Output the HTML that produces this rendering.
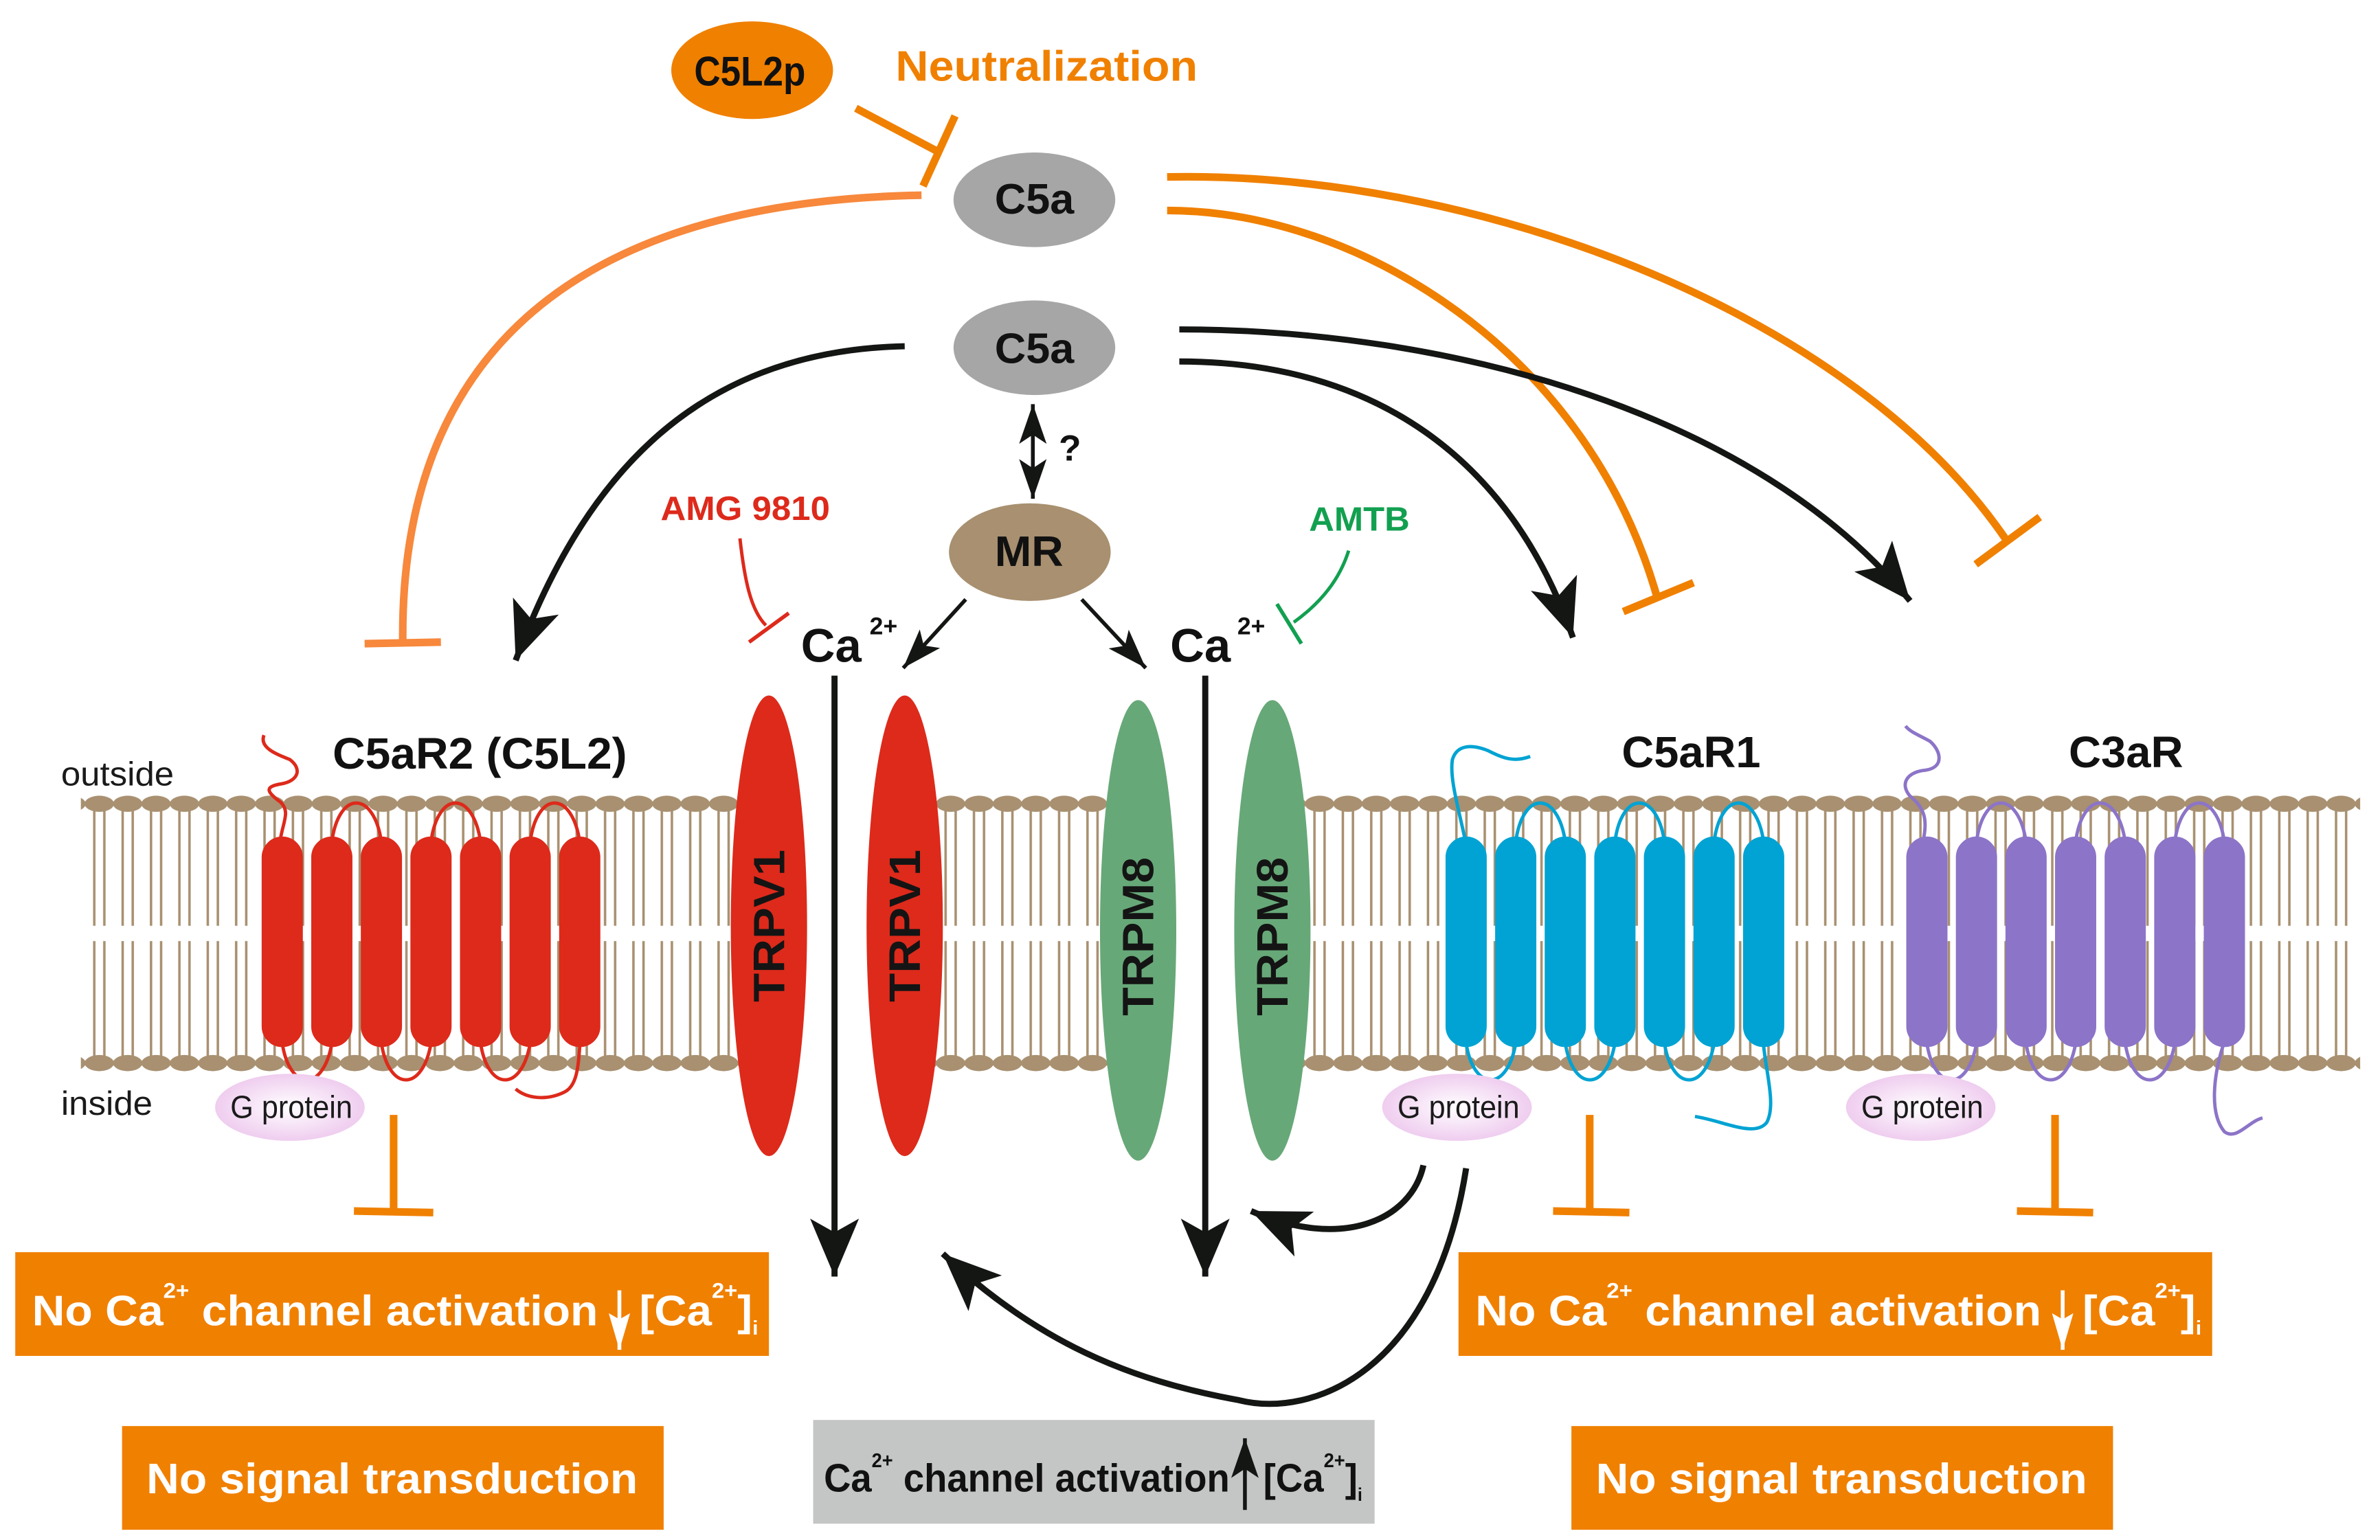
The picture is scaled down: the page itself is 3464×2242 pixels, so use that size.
<!DOCTYPE html>
<html><head><meta charset="utf-8"><style>
html,body{margin:0;padding:0;background:#fff;}
svg{display:block;}
text{font-family:"Liberation Sans",Arial,sans-serif;font-weight:bold;}
</style></head><body>
<svg xmlns="http://www.w3.org/2000/svg" width="3464" height="2242" viewBox="0 0 1560 1009.7" preserveAspectRatio="none">
<defs>
<pattern id="mem" patternUnits="userSpaceOnUse" x="0" y="521" width="18.6" height="182">
<g stroke="#a89070" stroke-width="1.6">
<line x1="6" y1="8" x2="6" y2="86"/><line x1="12.6" y1="8" x2="12.6" y2="86"/>
<line x1="6" y1="96" x2="6" y2="174"/><line x1="12.6" y1="96" x2="12.6" y2="174"/>
</g>
<g fill="#a89070">
<ellipse cx="9.3" cy="6" rx="9.6" ry="5.3"/>
<ellipse cx="9.3" cy="176" rx="9.6" ry="5.3"/>
</g>
</pattern>
<radialGradient id="gp" cx="0.5" cy="0.5" r="0.5">
<stop offset="0" stop-color="#ffffff"/><stop offset="1" stop-color="#efcdef"/>
</radialGradient>
<marker id="ah" markerUnits="userSpaceOnUse" viewBox="-2 -18 42 36" markerWidth="42" markerHeight="36" refX="38" refY="0" orient="auto">
<path d="M0,-16 L38,0 L0,16 L9,0 z" fill="#141614"/>
</marker>
<marker id="ahs" markerUnits="userSpaceOnUse" viewBox="-2 -11 30 22" markerWidth="30" markerHeight="22" refX="26" refY="0" orient="auto">
<path d="M0,-9 L26,0 L0,9 L6,0 z" fill="#141614"/>
</marker>
<marker id="ahw" markerUnits="userSpaceOnUse" viewBox="-2 -10 28 20" markerWidth="28" markerHeight="20" refX="24" refY="0" orient="auto">
<path d="M0,-7 L24,0 L0,7 L4,0 z" fill="#fff"/>
</marker>
<g id="rec">
<rect x="0" y="549" width="26" height="137" rx="13"/>
<rect x="32.5" y="549" width="26" height="137" rx="13"/>
<rect x="65" y="549" width="26" height="137" rx="13"/>
<rect x="97.5" y="549" width="26" height="137" rx="13"/>
<rect x="130" y="549" width="26" height="137" rx="13"/>
<rect x="162.5" y="549" width="26" height="137" rx="13"/>
<rect x="195" y="549" width="26" height="137" rx="13"/>
<g fill="none" stroke-width="2.2">
<path d="M45.5,552 C50,518 73,518 78,552"/>
<path d="M110.5,552 C115,518 138,518 143,552"/>
<path d="M175.5,552 C180,518 203,518 208,552"/>
<path d="M13,684 C18,716 40,716 45.5,684"/>
<path d="M78,684 C83,716 105,716 110.5,684"/>
<path d="M143,684 C148,716 170,716 175.5,684"/>
</g>
</g>
</defs>

<rect x="53" y="521" width="450" height="182" fill="url(#mem)"/>
<rect x="593" y="521" width="153" height="182" fill="url(#mem)"/>
<rect x="834" y="521" width="713" height="182" fill="url(#mem)"/>

<g fill="#dd2a1b" stroke="#dd2a1b"><use href="#rec" x="172"/></g>
<g fill="#00a3d3" stroke="#00a3d3"><use href="#rec" x="948"/></g>
<g fill="#8c74c8" stroke="#8c74c8"><use href="#rec" x="1250"/></g>
<g fill="none" stroke-width="2.2">
<path stroke="#dd2a1b" d="M184,549 C186,538 190,532 184,526 C176,520 172,516 184,514 C196,512 198,504 190,498 C180,494 170,490 173,482"/>
<path stroke="#dd2a1b" d="M380,686 C379,700 378,712 370,716 C358,722 345,720 338,714"/>
<path stroke="#00a3d3" d="M960,549 C956,530 950,510 952,498 C955,488 965,488 975,492 C985,497 992,500 1003,496"/>
<path stroke="#00a3d3" d="M1156,686 C1158,705 1164,725 1158,736 C1150,746 1130,735 1111,732"/>
<path stroke="#8c74c8" d="M1261,549 C1263,538 1262,530 1252,522 C1245,514 1250,506 1262,505 C1275,503 1272,492 1265,486 C1258,482 1252,480 1249,476"/>
<path stroke="#8c74c8" d="M1457,686 C1451,705 1448,730 1458,742 C1466,748 1474,735 1483,733"/>
</g>

<ellipse cx="190" cy="726" rx="49" ry="22" fill="url(#gp)"/>
<ellipse cx="955" cy="726" rx="49" ry="22" fill="url(#gp)"/>
<ellipse cx="1259" cy="726" rx="49" ry="22" fill="url(#gp)"/>
<g fill="#1a1a1a">
<text x="151" y="733" font-size="21" textLength="80" lengthAdjust="spacingAndGlyphs" style="font-weight:normal">G protein</text>
<text x="916" y="733" font-size="21" textLength="80" lengthAdjust="spacingAndGlyphs" style="font-weight:normal">G protein</text>
<text x="1220" y="733" font-size="21" textLength="80" lengthAdjust="spacingAndGlyphs" style="font-weight:normal">G protein</text>
<text x="40" y="515" font-size="22" textLength="74" lengthAdjust="spacingAndGlyphs" style="font-weight:normal">outside</text>
<text x="40" y="731" font-size="22" textLength="60" lengthAdjust="spacingAndGlyphs" style="font-weight:normal">inside</text>
</g>

<ellipse cx="504" cy="607" rx="25" ry="151" fill="#dd2a1b"/>
<ellipse cx="593" cy="607" rx="25" ry="151" fill="#dd2a1b"/>
<ellipse cx="746" cy="610" rx="25" ry="151" fill="#67a878"/>
<ellipse cx="834" cy="610" rx="25" ry="151" fill="#67a878"/>
<g font-size="29" fill="#141414">
<text transform="translate(514,607) rotate(-90)" text-anchor="middle" textLength="100" lengthAdjust="spacingAndGlyphs">TRPV1</text>
<text transform="translate(603,607) rotate(-90)" text-anchor="middle" textLength="100" lengthAdjust="spacingAndGlyphs">TRPV1</text>
<text transform="translate(756,614) rotate(-90)" text-anchor="middle" textLength="104" lengthAdjust="spacingAndGlyphs">TRPM8</text>
<text transform="translate(844,614) rotate(-90)" text-anchor="middle" textLength="104" lengthAdjust="spacingAndGlyphs">TRPM8</text>
</g>

<line x1="547" y1="443" x2="547" y2="837" stroke="#141614" stroke-width="4" marker-end="url(#ah)"/>
<line x1="790" y1="443" x2="790" y2="837" stroke="#141614" stroke-width="4" marker-end="url(#ah)"/>

<g font-size="29" fill="#111">
<text x="218" y="504" textLength="193" lengthAdjust="spacingAndGlyphs">C5aR2 (C5L2)</text>
<text x="1063" y="503" textLength="91" lengthAdjust="spacingAndGlyphs">C5aR1</text>
<text x="1356" y="503" textLength="75" lengthAdjust="spacingAndGlyphs">C3aR</text>
</g>

<ellipse cx="493" cy="46" rx="53" ry="32" fill="#f08000"/>
<text x="455" y="56" font-size="27" fill="#111" textLength="73" lengthAdjust="spacingAndGlyphs">C5L2p</text>
<text x="587" y="53" font-size="28" fill="#f08000" textLength="198" lengthAdjust="spacingAndGlyphs">Neutralization</text>
<ellipse cx="678" cy="131" rx="53" ry="31" fill="#a6a6a6"/>
<text x="652" y="140" font-size="28" fill="#111" textLength="52" lengthAdjust="spacingAndGlyphs">C5a</text>
<ellipse cx="678" cy="228" rx="53" ry="31" fill="#a6a6a6"/>
<text x="652" y="238" font-size="28" fill="#111" textLength="52" lengthAdjust="spacingAndGlyphs">C5a</text>
<ellipse cx="675" cy="362" rx="53" ry="32" fill="#a89070"/>
<text x="652" y="371" font-size="28" fill="#111" textLength="45" lengthAdjust="spacingAndGlyphs">MR</text>
<text x="694" y="302" font-size="24" fill="#111">?</text>

<line x1="677" y1="285" x2="677" y2="265" stroke="#141614" stroke-width="2.5" marker-end="url(#ahs)"/>
<line x1="677" y1="285" x2="677" y2="327" stroke="#141614" stroke-width="2.5" marker-end="url(#ahs)"/>

<line x1="633" y1="393" x2="592" y2="438" stroke="#141614" stroke-width="2.5" marker-end="url(#ahs)"/>
<line x1="709" y1="393" x2="751" y2="438" stroke="#141614" stroke-width="2.5" marker-end="url(#ahs)"/>

<text x="525" y="434" font-size="31" fill="#111">Ca</text>
<text x="570" y="416" font-size="16" fill="#111">2+</text>
<text x="767" y="434" font-size="31" fill="#111">Ca</text>
<text x="811" y="416" font-size="16" fill="#111">2+</text>

<text x="433" y="341" font-size="22" fill="#dd2a1b" textLength="111" lengthAdjust="spacingAndGlyphs">AMG 9810</text>
<path d="M485,353 C488,380 492,400 502,410" fill="none" stroke="#dd2a1b" stroke-width="2.2"/>
<line x1="491" y1="421" x2="517" y2="402" stroke="#dd2a1b" stroke-width="2.5"/>
<text x="858" y="348" font-size="22" fill="#12a050" textLength="66" lengthAdjust="spacingAndGlyphs">AMTB</text>
<path d="M884,361 C878,380 866,395 848,408" fill="none" stroke="#12a050" stroke-width="2.2"/>
<line x1="837" y1="396" x2="853" y2="422" stroke="#12a050" stroke-width="2.5"/>

<g fill="none" stroke-width="5">
<line x1="561" y1="71" x2="614" y2="99" stroke="#f08000"/>
<line x1="605" y1="122" x2="626" y2="76" stroke="#f08000"/>
<path d="M604,128 C380,132 262,230 264,421" stroke="#f7883c"/>
<line x1="239" y1="422" x2="289" y2="421" stroke="#f7883c"/>
<path d="M765,116 C960,112 1210,200 1315,354" stroke="#f08000"/>
<line x1="1295" y1="370" x2="1337" y2="339" stroke="#f08000"/>
<path d="M765,138 C890,138 1040,230 1086,391" stroke="#f08000"/>
<line x1="1064" y1="401" x2="1110" y2="382" stroke="#f08000"/>
<line x1="258" y1="731" x2="258" y2="793" stroke="#f08000"/>
<line x1="232" y1="794" x2="284" y2="795" stroke="#f08000"/>
<line x1="1042" y1="731" x2="1042" y2="793" stroke="#f08000"/>
<line x1="1018" y1="794" x2="1068" y2="795" stroke="#f08000"/>
<line x1="1347" y1="731" x2="1347" y2="793" stroke="#f08000"/>
<line x1="1322" y1="794" x2="1372" y2="795" stroke="#f08000"/>
</g>

<g fill="none" stroke="#141614" stroke-width="4">
<path d="M593,227 C450,230 380,320 338,433" marker-end="url(#ah)"/>
<path d="M773,216 C950,216 1150,270 1252,394" marker-end="url(#ah)"/>
<path d="M773,237 C900,237 990,300 1031,418" marker-end="url(#ah)"/>
<path d="M933,764 C925,800 880,820 820,794" marker-end="url(#ah)"/>
<path d="M961,766 C940,900 860,930 812,918 C740,905 680,880 618,822" marker-end="url(#ah)"/>
</g>

<rect x="10" y="821" width="494" height="68" fill="#f08000"/>
<rect x="956" y="821" width="494" height="68" fill="#f08000"/>
<g fill="#fff" font-size="28">
<text x="21" y="869" textLength="371" lengthAdjust="spacingAndGlyphs">No Ca<tspan font-size="14" dy="-18">2+</tspan><tspan dy="18"> channel activation</tspan></text>
<text x="419" y="869" textLength="78" lengthAdjust="spacingAndGlyphs">[Ca<tspan font-size="14" dy="-18">2+</tspan><tspan dy="18">]</tspan><tspan font-size="13" dy="6">i</tspan></text>
<text x="967" y="869" textLength="371" lengthAdjust="spacingAndGlyphs">No Ca<tspan font-size="14" dy="-18">2+</tspan><tspan dy="18"> channel activation</tspan></text>
<text x="1365" y="869" textLength="78" lengthAdjust="spacingAndGlyphs">[Ca<tspan font-size="14" dy="-18">2+</tspan><tspan dy="18">]</tspan><tspan font-size="13" dy="6">i</tspan></text>
</g>
<line x1="406" y1="846" x2="406" y2="885" stroke="#fff" stroke-width="2.5" marker-end="url(#ahw)"/>
<line x1="1352" y1="846" x2="1352" y2="885" stroke="#fff" stroke-width="2.5" marker-end="url(#ahw)"/>

<rect x="80" y="935" width="355" height="68" fill="#f08000"/>
<rect x="1030" y="935" width="355" height="68" fill="#f08000"/>
<text x="96" y="979" font-size="28" fill="#fff" textLength="322" lengthAdjust="spacingAndGlyphs">No signal transduction</text>
<text x="1046" y="979" font-size="28" fill="#fff" textLength="322" lengthAdjust="spacingAndGlyphs">No signal transduction</text>

<rect x="533" y="931" width="368" height="68" fill="#c4c6c6"/>
<text x="540" y="978" font-size="26" fill="#111" textLength="266" lengthAdjust="spacingAndGlyphs">Ca<tspan font-size="13" dy="-16">2+</tspan><tspan dy="16"> channel activation</tspan></text>
<line x1="816" y1="990" x2="816" y2="943" stroke="#141614" stroke-width="2.5" marker-end="url(#ahs)"/>
<text x="828" y="978" font-size="26" fill="#111" textLength="65" lengthAdjust="spacingAndGlyphs">[Ca<tspan font-size="13" dy="-16">2+</tspan><tspan dy="16">]</tspan><tspan font-size="12" dy="6">i</tspan></text>
</svg>
</body></html>
